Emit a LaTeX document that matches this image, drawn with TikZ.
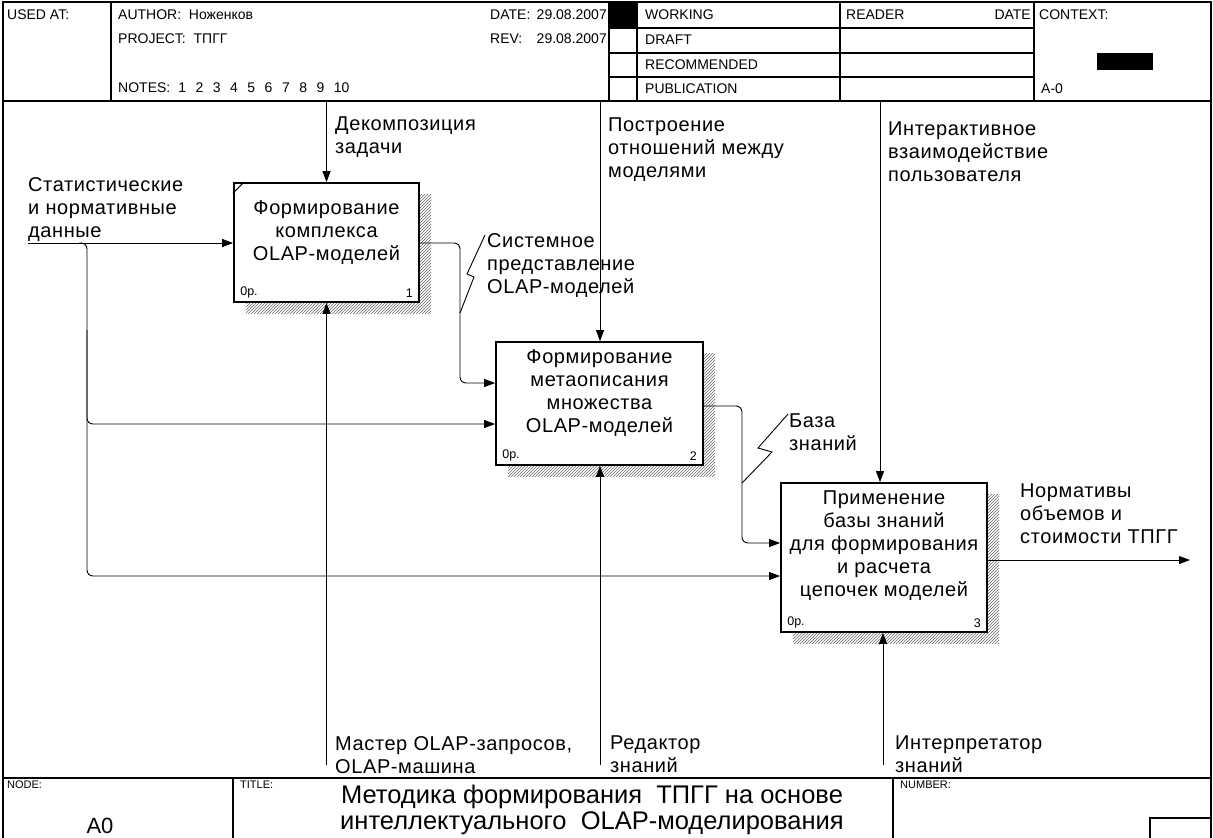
\documentclass[tikz,border=0pt]{standalone}
\usepackage{fontspec}
\setmainfont{Liberation Sans}
\newfontfamily\lsfont[LetterSpace=3]{Liberation Sans}
\usetikzlibrary{arrows.meta,patterns}
\tikzset{
  frame/.style={line width=1.1pt},
  hdr/.style={font=\fontsize{14}{16}\selectfont, inner sep=0pt, anchor=west},
  smallhdr/.style={font=\fontsize{11}{13}\selectfont, inner sep=0pt, anchor=west},
  lbl/.style={font=\lsfont\fontsize{20}{23}\selectfont, align=left, inner sep=0pt, anchor=north west},
  boxtext/.style={font=\lsfont\fontsize{20}{23}\selectfont, align=center, inner sep=0pt},
  fnbox/.style={draw, line width=1.8pt, fill=white, inner sep=0pt},
  shadowbox/.style={fill=gray!30, pattern=north east lines, pattern color=gray!80!black},
  corner/.style={font=\fontsize{12.5}{14}\selectfont, inner sep=0pt},
  conn/.style={line width=0.9pt, rounded corners=6pt},
  arr/.style={conn, -{Triangle[length=11pt,width=8pt]}},
}
\begin{document}
\begin{tikzpicture}[x=1pt,y=-1pt]
\useasboundingbox (0,0) rectangle (1213,838);
\fill[white] (0,0) rectangle (1213,838);

% ---------- header frame ----------
\draw[frame] (3,840) -- (3,2) -- (1211,2) -- (1211,840);
\draw[frame] (3,101) -- (1211,101);
\draw[frame] (111,2) -- (111,101);
\draw[frame] (609,2) -- (609,101);
\draw[frame] (637,2) -- (637,101);
\draw[frame] (840,2) -- (840,101);
\draw[frame] (1034,2) -- (1034,101);
\draw[frame] (609,28) -- (1034,28);
\draw[frame] (609,53) -- (1034,53);
\draw[frame] (609,77) -- (1034,77);
\fill[black] (609,2) rectangle (637,28);
\fill[black] (1097,53) rectangle (1153,70);

\node[hdr] (usedat) at (7,15) {USED AT:};
\node[hdr] (author) at (118,15) {AUTHOR:\ \ Ноженков};
\node[hdr] (project) at (118,39) {PROJECT:\ \ ТПГГ};
\node[hdr] (notes) at (118,88) {NOTES:\hspace{8pt}1\hspace{9.5pt}2\hspace{9.5pt}3\hspace{9.5pt}4\hspace{9.5pt}5\hspace{9.5pt}6\hspace{9.5pt}7\hspace{9.5pt}8\hspace{9.5pt}9\hspace{9.5pt}10};
\node[hdr] (datel) at (490,15) {DATE:};
\node[hdr, anchor=east] (datev) at (607,15) {29.08.2007};
\node[hdr] (revl) at (490,39) {REV:};
\node[hdr, anchor=east] (revv) at (607,39) {29.08.2007};
\node[hdr] (working) at (645,15) {WORKING};
\node[hdr] (draft) at (645,40) {DRAFT};
\node[hdr] (recom) at (645,65) {RECOMMENDED};
\node[hdr] (public) at (645,89) {PUBLICATION};
\node[hdr] (reader) at (846,15) {READER};
\node[hdr, anchor=east] (rdate) at (1031,15) {DATE};
\node[hdr] (context) at (1039,15) {CONTEXT:};
\node[hdr] (aminus) at (1041,89) {A-0};

% ---------- bottom frame ----------
\draw[frame] (3,778) -- (1211,778);
\draw[frame] (233,778) -- (233,840);
\draw[frame] (893,778) -- (893,840);
\draw[frame] (1150,840) -- (1150,818) -- (1211,818);
\node[smallhdr] (nodel) at (7,785) {NODE:};
\node[smallhdr] (titlel) at (240,785) {TITLE:};
\node[smallhdr] (numberl) at (900,785) {NUMBER:};
\node[font=\fontsize{22}{26}\selectfont, inner sep=0pt] (nodeval) at (100,826) {A0};
\node[font=\fontsize{25.5}{26.5}\selectfont, align=center, inner sep=0pt] (title) at (592,810)
  {Методика формирования\ \ ТПГГ на основе\\интеллектуального\ \ OLAP-моделирования};

% ---------- shadows ----------
\path[shadowbox] (246,194) rectangle (431,313);
\path[shadowbox] (508,353) rectangle (715,476);
\path[shadowbox] (793,494) rectangle (999,643);

% ---------- boxes ----------
\node[fnbox, minimum width=185pt, minimum height=119pt] (b1) at (326.5,242.5) {};
\node[fnbox, minimum width=207pt, minimum height=123pt] (b2) at (599.5,403.5) {};
\node[fnbox, minimum width=206pt, minimum height=149pt] (b3) at (884,557.5) {};
\draw[line width=1pt] ([yshift=-11pt]b1.north west) -- ([xshift=11pt]b1.north west);

\node[boxtext] (t1) at (326.5,233) {Формирование\\комплекса\\OLAP-моделей};
\node[boxtext] (t2) at (599.5,393) {Формирование\\метаописания\\множества\\OLAP-моделей};
\node[boxtext] (t3) at (884,546) {Применение\\базы знаний\\для формирования\\и расчета\\цепочек моделей};

\node[corner, anchor=west] (p1) at ([xshift=7pt,yshift=10pt]b1.south west) {0р.};
\node[corner, anchor=east] (n1) at ([xshift=-7pt,yshift=10pt]b1.south east) {1};
\node[corner, anchor=west] (p2) at ([xshift=7pt,yshift=10pt]b2.south west) {0р.};
\node[corner, anchor=east] (n2) at ([xshift=-7pt,yshift=10pt]b2.south east) {2};
\node[corner, anchor=west] (p3) at ([xshift=7pt,yshift=10pt]b3.south west) {0р.};
\node[corner, anchor=east] (n3) at ([xshift=-7pt,yshift=10pt]b3.south east) {3};

% ---------- coordinates ----------
\coordinate (c1) at (326.5,101);
\coordinate (c2) at (600,101);
\coordinate (c3) at (880,101);
\coordinate (m1) at (326.5,765);
\coordinate (m2) at (600,765);
\coordinate (m3) at (883,765);
\coordinate (in0) at (28,243);
\coordinate (out3) at (1190,560);

% ---------- controls ----------
\draw[arr] (c1) -- (b1.north);
\draw[arr] (c2) -- (b2.north -| c2);
\draw[arr] (c3) -- (b3.north -| c3);

% ---------- mechanisms ----------
\draw[arr] (m1) -- (b1.south);
\draw[arr] (m2) -- (b2.south -| m2);
\draw[arr] (m3) -- (b3.south -| m3);

% ---------- inputs ----------
\draw[arr] (in0) -- (b1.west |- in0);
\draw[arr] (79,243) -- (87,243) -- (87,424) -- (b2.west |- 0,424);
\draw[arr] (87,330) -- (87,576) -- (b3.west |- 0,576);

% ---------- box to box ----------
\draw[arr] (b1.east |- in0) -- (460,243) -- (460,383) -- (b2.west |- 0,383);
\draw[arr] (b2.east |- 0,406) -- (742,406) -- (742,543) -- (b3.west |- 0,543);
\draw[arr] (b3.east |- out3) -- (out3);

% squiggles
\draw[line width=0.9pt] (485,235) -- (467,274) -- (474,277) -- (460,313);
\draw[line width=0.9pt] (788,414) -- (758,448) -- (772,452) -- (742,483);

% ---------- labels ----------
\node[lbl] (lin) at (28,177) {Статистические\\и нормативные\\данные};
\node[lbl] (lc1) at (335,117) {Декомпозиция\\задачи};
\node[lbl] (lc2) at (608,118) {Построение\\отношений между\\моделями};
\node[lbl] (lc3) at (888,122) {Интерактивное\\взаимодействие\\пользователя};
\node[lbl] (l12) at (487,233) {Системное\\представление\\OLAP-моделей};
\node[lbl] (l23) at (789,414) {База\\знаний};
\node[lbl] (lout) at (1020,484) {Нормативы\\объемов и\\стоимости ТПГГ};
\node[lbl] (lm1) at (335,736) {Мастер OLAP-запросов,\\OLAP-машина};
\node[lbl] (lm2) at (610,736) {Редактор\\знаний};
\node[lbl] (lm3) at (895,736) {Интерпретатор\\знаний};
\end{tikzpicture}
\end{document}
